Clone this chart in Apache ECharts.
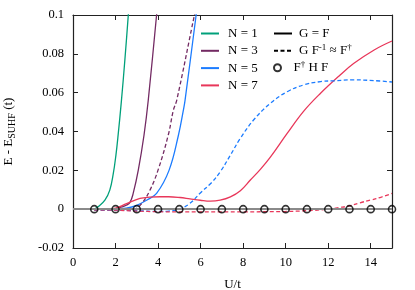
<!DOCTYPE html>
<html>
<head>
<meta charset="utf-8">
<script src="https://cdn.jsdelivr.net/npm/echarts@6/dist/echarts.min.js"></script>
<style>
html,body{margin:0;padding:0;background:#fff;}
#c{width:415px;height:290px;}
</style>
</head>
<body>
<div id="c"></div>
<script>
// ---- data ----
var n1SolidX = [1.0, 1.18, 1.5, 1.73, 1.89, 2.02, 2.12, 2.27, 2.44, 2.6, 2.7];
var n1SolidY = [0, 0.0012, 0.0046, 0.0098, 0.018, 0.028, 0.038, 0.055, 0.077, 0.1, 0.115];

var n3SolidX = [1.0, 1.5, 2.0, 2.3, 2.5, 2.68, 2.83, 3.07, 3.34, 3.54, 3.93, 4.0];
var n3SolidY = [0, 0, 0.0003, 0.0012, 0.002, 0.0035, 0.0081, 0.0201, 0.0382, 0.0562, 0.1, 0.108];

var n3DashX = [1.0, 2.0, 2.5, 2.9, 3.23, 3.62, 4.01, 4.48, 4.72, 4.88, 5.71, 5.85];
var n3DashY = [-0.0005, -0.0005, -0.0005, 0, 0.0029, 0.0098, 0.0205, 0.0382, 0.051, 0.0562, 0.1, 0.107];

var n5SolidX = [2.0, 2.5, 3.0, 3.46, 3.93, 4.52, 4.96, 5.19, 5.27, 5.79, 5.9];
var n5SolidY = [0, 0.0005, 0.002, 0.0046, 0.0081, 0.0201, 0.0382, 0.051, 0.0562, 0.1, 0.11];

var n5DashX = [1, 2, 3, 4, 4.5, 5, 5.5, 6, 6.5, 6.92, 7.4, 7.87, 8.49, 9.28, 10.07, 10.85, 11.64, 12.27, 13.2, 14.16, 15];
var n5DashY = [-0.0003, -0.0005, -0.0008, -0.0012, -0.001, 0, 0.003, 0.0085, 0.0135, 0.0192, 0.0278, 0.0365, 0.0459, 0.0545, 0.0605, 0.064, 0.0657, 0.0661, 0.0666, 0.0662, 0.0655];

var n7SolidX = [1, 1.5, 2, 2.52, 3.15, 3.6, 4.09, 4.5, 5.03, 5.5, 5.98, 6.45, 6.92, 7.4, 7.87, 8.34, 8.81, 9.28, 10.07, 10.85, 11.64, 12.5, 13.21, 14.16, 15];
var n7SolidY = [0, 0, 0.0005, 0.0029, 0.0055, 0.0062, 0.0064, 0.0064, 0.006, 0.0053, 0.0046, 0.0041, 0.0046, 0.0063, 0.0095, 0.015, 0.0205, 0.0268, 0.039, 0.0505, 0.0597, 0.0685, 0.0751, 0.082, 0.0866];

var n7DashX = [1, 2, 3, 4, 5, 6, 7, 8, 9, 10, 11, 12, 12.5, 13, 13.5, 14, 14.5, 15];
var n7DashY = [-0.0003, -0.0005, -0.001, -0.0013, -0.0014, -0.0014, -0.0014, -0.0014, -0.0013, -0.0012, -0.0008, 0, 0.0008, 0.0017, 0.0033, 0.0047, 0.0062, 0.0081];

var circleX = [1, 2, 3, 4, 5, 6, 7, 8, 9, 10, 11, 12, 13, 14, 15];
var circleY = [0, 0, 0, 0, 0, 0, 0, 0, 0, 0, 0, 0, 0, 0, 0];

var xTickLabels = ['0', '2', '4', '6', '8', '10', '12', '14'];
var yTickLabels = ['-0.02', '0', '0.02', '0.04', '0.06', '0.08', '0.1'];
var seriesNames = ['N = 1', 'N = 3', 'N = 5', 'N = 7'];
var methodNames = ['G = F', 'G F-1 ≈ F†', 'F† H F'];

// ---- helpers ----
function pairs(xs, ys) { return xs.map(function (x, i) { return [x, ys[i]]; }); }
var FONT = 'Liberation Serif';
var colors = ['#00a07a', '#732a63', '#1c7cff', '#e8375a'];
var dash = [4, 2.5];

function lineSeries(name, xs, ys, color, dashed) {
  return {
    type: 'line', name: name, data: pairs(xs, ys), smooth: 0.4,
    symbol: 'none', clip: true, z: 3,
    lineStyle: { color: color, width: 1.3, type: dashed ? dash : 'solid' },
    itemStyle: { color: color }
  };
}

var series = [
  lineSeries(seriesNames[0], n1SolidX, n1SolidY, colors[0], false),
  lineSeries(seriesNames[1], n3SolidX, n3SolidY, colors[1], false),
  lineSeries(seriesNames[2], n5SolidX, n5SolidY, colors[2], false),
  lineSeries(seriesNames[3], n7SolidX, n7SolidY, colors[3], false),
  lineSeries(seriesNames[1], n3DashX, n3DashY, colors[1], true),
  lineSeries(seriesNames[2], n5DashX, n5DashY, colors[2], true),
  lineSeries(seriesNames[3], n7DashX, n7DashY, colors[3], true),
  {
    type: 'line', name: methodNames[0], data: [], symbol: 'none',
    lineStyle: { color: '#000', width: 1.5 }, itemStyle: { color: '#000' },
    markLine: {
      silent: true, symbol: 'none', label: { show: false },
      lineStyle: { color: '#8a8a8a', width: 2, type: 'solid' },
      data: [{ yAxis: 0 }]
    }, z: 2
  },
  {
    type: 'line', name: methodNames[1], data: [], symbol: 'none',
    lineStyle: { color: '#000', width: 1.5, type: dash }, itemStyle: { color: '#000' }
  },
  {
    type: 'scatter', name: methodNames[2], data: pairs(circleX, circleY),
    symbol: 'circle', symbolSize: 7, z: 5,
    itemStyle: { color: 'rgba(255,255,255,0)', borderColor: '#000', borderWidth: 1.6 }
  }
];

function legendText(padLeft) {
  return {
    fontFamily: FONT, fontSize: 13, color: '#000', lineHeight: 16,
    padding: [0, 0, 0, padLeft],
    rich: {
      b: { fontFamily: FONT, fontSize: 13, color: '#000', lineHeight: 16 },
      sup: { fontFamily: FONT, fontSize: 9, color: '#000', lineHeight: 16, verticalAlign: 'top', padding: [0, 0, 5, 0] }
    }
  };
}
function legendFmt(name) {
  if (name === methodNames[1]) return '{b|G F}{sup|-1}{b| ≈ F}{sup|†}';
  if (name === methodNames[2]) return '{b|F}{sup|†}{b| H F}';
  return '{b|' + name + '}';
}

var option = {
  animation: false,
  backgroundColor: '#fff',
  grid: { left: 73, right: 23, top: 15, bottom: 42, containLabel: false, outerBoundsMode: 'none' },
  legend: [
    {
      data: seriesNames, orient: 'vertical', left: 200, top: 25.5, padding: 0,
      itemWidth: 18, itemHeight: 10, itemGap: 1.3,
      itemStyle: { opacity: 0 },
      textStyle: legendText(4), formatter: legendFmt, selectedMode: false
    },
    {
      data: [methodNames[0], methodNames[1]], orient: 'vertical', left: 273, top: 25.5, padding: 0,
      itemWidth: 18, itemHeight: 10, itemGap: 1.3,
      itemStyle: { opacity: 0 },
      textStyle: legendText(2), formatter: legendFmt, selectedMode: false
    },
    {
      data: [{ name: methodNames[2], icon: 'circle' }], orient: 'vertical', left: 273, top: 59.7, padding: 0,
      itemWidth: 18, itemHeight: 7, symbolKeepAspect: true,
      textStyle: legendText(2), formatter: legendFmt, selectedMode: false
    }
  ],
  xAxis: [
    {
      type: 'value', min: 0, max: 15, interval: 2,
      name: 'U/t', nameLocation: 'middle', nameGap: 30,
      nameTextStyle: { fontFamily: FONT, fontSize: 13, color: '#000' },
      axisLine: { show: true, onZero: false, lineStyle: { color: '#222', width: 1.2 } },
      axisTick: { show: true, inside: true, length: 5, lineStyle: { color: '#222' } },
      axisLabel: {
        fontFamily: FONT, fontSize: 12.5, color: '#000', margin: 8, showMaxLabel: false,
        formatter: function (v) { var i = Math.round(v / 2); return (Math.abs(v - i * 2) < 1e-6 && xTickLabels[i] !== undefined) ? xTickLabels[i] : ''; }
      },
      splitLine: { show: false }
    },
    {
      type: 'value', min: 0, max: 15, interval: 2, position: 'top',
      axisLine: { show: true, onZero: false, lineStyle: { color: '#222', width: 1.2 } },
      axisTick: { show: true, inside: true, length: 5, lineStyle: { color: '#222' } },
      axisLabel: { show: false }, splitLine: { show: false }
    }
  ],
  yAxis: [
    {
      type: 'value', min: -0.02, max: 0.1, interval: 0.02,
      name: 'E - E{sub|SUHF} (t)', nameLocation: 'middle', nameGap: 56, nameRotate: 90,
      nameTextStyle: {
        fontFamily: FONT, fontSize: 13, color: '#000', lineHeight: 16,
        rich: { sub: { fontFamily: FONT, fontSize: 10, color: '#000', verticalAlign: 'bottom', padding: [4, 0, 0, 0], lineHeight: 16 } }
      },
      axisLine: { show: true, onZero: false, lineStyle: { color: '#222', width: 1.2 } },
      axisTick: { show: true, inside: true, length: 5, lineStyle: { color: '#222' } },
      axisLabel: {
        fontFamily: FONT, fontSize: 12.5, color: '#000', margin: 9,
        formatter: function (v) { var i = Math.round((v + 0.02) / 0.02); return yTickLabels[i] !== undefined ? yTickLabels[i] : ''; }
      },
      splitLine: { show: false }
    },
    {
      type: 'value', min: -0.02, max: 0.1, interval: 0.02, position: 'right',
      axisLine: { show: true, onZero: false, lineStyle: { color: '#222', width: 1.2 } },
      axisTick: { show: true, inside: true, length: 5, lineStyle: { color: '#222' } },
      axisLabel: { show: false }, splitLine: { show: false }
    }
  ],
  series: series
};

var chart = echarts.init(document.getElementById('c'), null, { renderer: 'canvas' });
chart.setOption(option);
</script>
</body>
</html>
